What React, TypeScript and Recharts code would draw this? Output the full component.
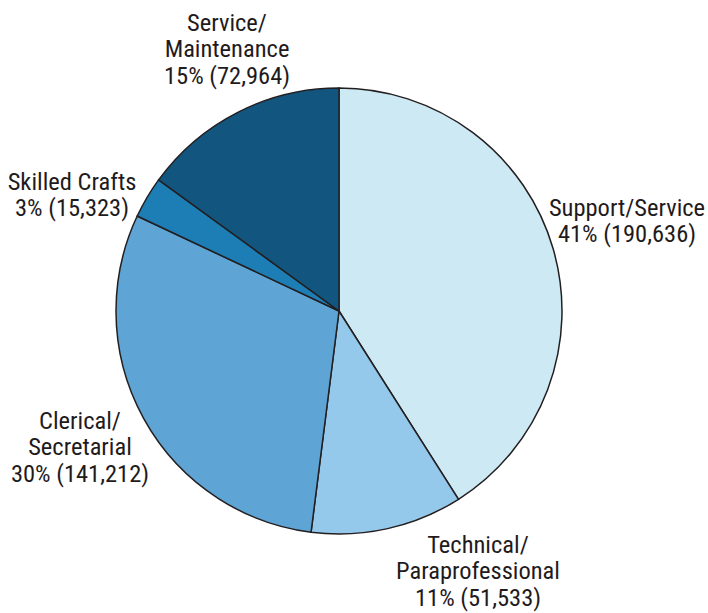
import React from "react";
import { PieChart, Pie, Cell } from "recharts";

const categories = ["Support/Service", "Technical/Paraprofessional", "Clerical/Secretarial", "Skilled Crafts", "Service/Maintenance"];
const values = [190636, 51533, 141212, 15323, 72964];
const percents = [41, 11, 30, 3, 15];
const labelLines = [
  ["Support/Service", "41% (190,636)"],
  ["Technical/", "Paraprofessional", "11% (51,533)"],
  ["Clerical/", "Secretarial", "30% (141,212)"],
  ["Skilled Crafts", "3% (15,323)"],
  ["Service/", "Maintenance", "15% (72,964)"],
];
const colors = ["#cde9f4", "#94c9ec", "#5ea4d5", "#1d7db5", "#12557f"];
// label anchor (center x, first-line center y)
const labelPos = [
  [627, 207],
  [478, 544],
  [80, 420],
  [72, 181],
  [227, 22],
];

const data = categories.map((c, i) => ({ name: c, value: values[i], pct: percents[i] }));

const FONT = "'Liberation Sans Narrow', 'Roboto Condensed', 'Arial Narrow', Roboto, sans-serif";

const renderLabel = (props: any) => {
  const i = props.index;
  const [x, y] = labelPos[i];
  return (
    <text x={x} y={y} textAnchor="middle" fill="#1f1b1c" fontFamily={FONT} fontSize={24.5}>
      {labelLines[i].map((l, k) => (
        <tspan key={k} x={x} y={y + k * 26.5} dominantBaseline="central">
          {l}
        </tspan>
      ))}
    </text>
  );
};

export default function App() {
  return (
    <div style={{ position: "absolute", left: 0, top: 0, width: 708, height: 613, background: "#fff" }}>
      <PieChart width={708} height={613} margin={{ top: 0, right: 0, bottom: 0, left: 0 }}>
        <Pie
          data={data}
          dataKey="pct"
          nameKey="name"
          cx={339}
          cy={311}
          outerRadius={223}
          startAngle={90}
          endAngle={-270}
          stroke="#231f20"
          strokeWidth={1.5}
          label={renderLabel}
          labelLine={false}
          isAnimationActive={false}
        >
          {data.map((d, i) => (
            <Cell key={d.name} fill={colors[i]} />
          ))}
        </Pie>
      </PieChart>
    </div>
  );
}
